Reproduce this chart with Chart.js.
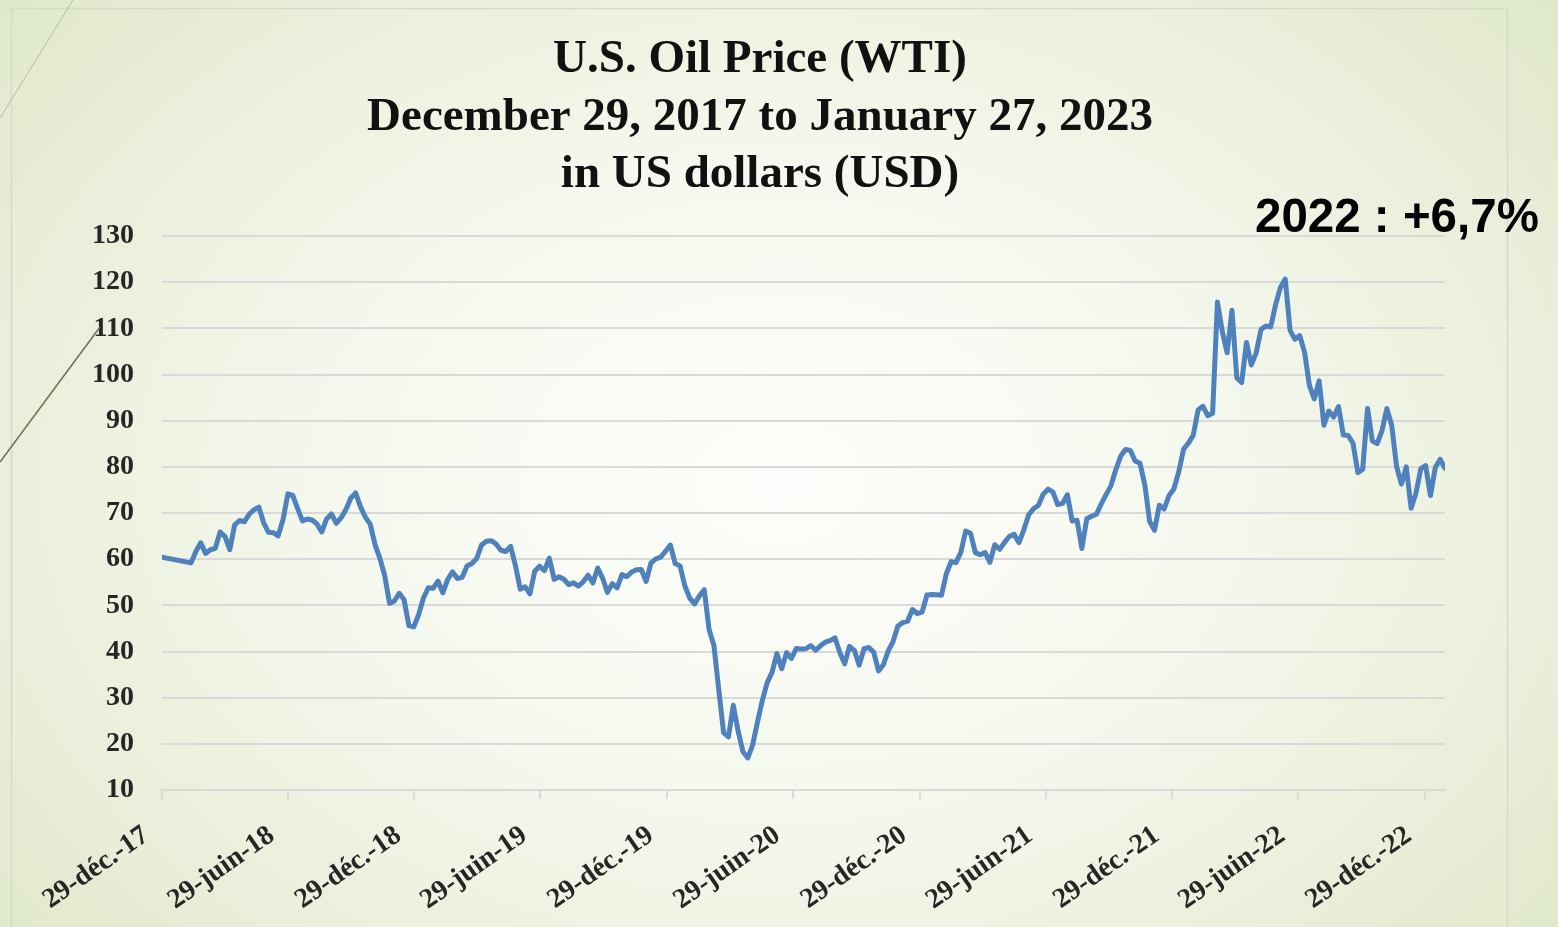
<!DOCTYPE html>
<html><head><meta charset="utf-8">
<script src="https://cdn.jsdelivr.net/npm/chart.js@4.4.1/dist/chart.umd.min.js"></script>
<style>
html,body{margin:0;padding:0;width:1558px;height:927px;overflow:hidden;}
body{background: radial-gradient(ellipse 70% 85% at 50% 52%, #fdfefb 0%, #f5f8ee 40%, #e8eed8 75%, #dde6c5 100%);}
#wrap{position:absolute;left:0;top:0;width:1558px;height:927px;}
</style></head><body>
<div id="wrap"><canvas id="c" width="1558" height="927"></canvas></div>
<script>
// ---- data ----
const startDate = '2017-12-29';           // first weekly observation (Friday)
const titleLines = ['U.S. Oil Price (WTI)', 'December 29, 2017 to January 27, 2023', 'in US dollars (USD)'];
const annotationText = '2022 : +6,7%';
const tickLabels = ['29-déc.-17','29-juin-18','29-déc.-18','29-juin-19','29-déc.-19','29-juin-20','29-déc.-20','29-juin-21','29-déc.-21','29-juin-22','29-déc.-22'];
const tickDates  = ['2017-12-29','2018-06-29','2018-12-29','2019-06-29','2019-12-29','2020-06-29','2020-12-29','2021-06-29','2021-12-29','2022-06-29','2022-12-29'];
const endDate = '2023-01-27';
// weekly WTI price, USD (null = no observation)
const prices2018 = [60.42,null,null,null,null,null,59.20,61.68,63.55,61.25,62.04,62.34,65.88,64.94,62.06,67.39,68.38,68.10,69.72,70.70,71.28,67.88,65.81,65.74,65.06,68.58,74.15,73.80,71.01,68.30,68.69,68.49,67.63,65.91,68.72,69.80,67.75,68.99,70.78,73.25,74.34,71.34,69.12,67.59,63.14,60.19,56.46,50.42,50.93,52.61,51.20,45.59,45.33];
const prices2019 = [47.96,51.59,53.80,53.69,55.26,52.72,55.59,57.26,55.80,56.07,58.52,59.04,60.14,63.08,63.89,64.00,63.30,61.94,61.66,62.76,58.63,53.50,54.00,52.51,57.43,58.47,57.51,60.21,55.63,56.20,55.66,54.50,54.87,54.17,55.10,56.52,54.85,58.09,55.91,52.81,54.70,53.78,56.66,56.20,57.24,57.72,57.77,55.17,59.20,60.07,60.44,61.72];
const prices2020 = [63.05,59.04,58.54,54.19,51.56,50.32,52.05,53.38,44.76,41.28,31.73,22.43,21.51,28.34,22.76,18.27,16.94,19.78,24.74,29.43,33.25,35.49,39.55,36.26,39.75,38.49,40.65,40.55,40.59,41.29,40.27,41.22,42.01,42.34,42.97,39.77,37.33,41.11,40.25,37.05,40.60,40.88,39.85,35.79,37.14,40.13,42.15,45.53,46.26,46.57,49.10,48.23,48.52];
const prices2021 = [52.24,52.36,52.27,52.20,56.85,59.47,59.24,61.50,66.09,65.61,61.42,60.97,61.45,59.32,63.13,62.14,63.58,64.90,65.37,63.58,66.32,69.62,70.91,71.64,74.05,75.16,74.56,71.81,72.07,73.95,68.28,68.44,62.32,68.74,69.29,69.72,71.97,73.98,75.88,79.35,82.28,83.76,83.57,81.27,80.79,76.10,68.15,66.26,71.67,70.86,73.79,75.21];
const prices2022 = [78.90,83.82,85.14,86.82,92.31,93.10,91.07,91.59,115.68,109.33,104.70,113.90,99.27,98.26,106.95,102.07,104.69,109.77,110.49,110.28,115.07,118.87,120.67,109.56,107.62,108.43,104.79,97.59,94.70,98.62,89.01,92.09,90.77,93.06,86.87,86.79,85.11,78.74,79.49,92.64,85.61,85.05,87.90,92.61,88.96,80.08,76.28,79.98,71.02,74.29,79.56,80.26];
const prices2023 = [73.77,79.86,81.64,79.68];
const yTicks = {min: 10, max: 130, step: 10};

// ---- build ----
const DAY = 86400000;
const t0 = Date.parse(startDate + 'T00:00:00Z');
const dayOf = s => Math.round((Date.parse(s + 'T00:00:00Z') - t0) / DAY);
const prices = [].concat(prices2018, prices2019, prices2020, prices2021, prices2022, prices2023);
const points = prices.map((v, i) => ({x: i * 7, y: v}));
const tickDays = tickDates.map(dayOf);

const SERIF = '"Liberation Serif", "Times New Roman", serif';

const decor = {
  id: 'decor',
  beforeDraw(chart) {
    const c = chart.ctx;
    c.save();
    c.strokeStyle = '#d6d9d0';
    c.lineWidth = 1.5;
    c.strokeRect(11.5, 8.5, 1496, 1000);
    c.restore();
  },
  afterDraw(chart) {
    const c = chart.ctx;
    c.save();
    c.fillStyle = '#111';
    c.textAlign = 'center';
    c.textBaseline = 'alphabetic';
    c.font = 'bold 47px ' + SERIF;
    const bl = [72, 130, 187];
    titleLines.forEach((t, i) => c.fillText(t, 760, bl[i]));
    c.textAlign = 'left';
    c.fillStyle = '#000';
    c.font = 'bold 47.5px "Liberation Sans", Arial, sans-serif';
    c.fillText(annotationText, 1255, 232);
    // decorative theme lines
    c.lineWidth = 1;
    c.strokeStyle = 'rgba(170,172,150,0.8)';
    c.beginPath(); c.moveTo(73, 0); c.lineTo(0, 118); c.stroke();
    c.lineWidth = 1.6;
    c.strokeStyle = '#7a6d56';
    c.beginPath(); c.moveTo(100, 327); c.lineTo(0, 462); c.stroke();
    c.restore();
  }
};

new Chart(document.getElementById('c'), {
  type: 'line',
  data: {
    datasets: [{
      data: points,
      borderColor: '#4F81BD',
      borderWidth: 5,
      pointRadius: 0,
      tension: 0,
      spanGaps: true,
      fill: false,
      borderJoinStyle: 'round',
      borderCapStyle: 'round'
    }]
  },
  options: {
    responsive: false,
    animation: false,
    layout: {padding: {top: 236, right: 113, bottom: 0, left: 0}},
    plugins: {legend: {display: false}, tooltip: {enabled: false}, title: {display: false}},
    scales: {
      x: {
        type: 'linear',
        min: 0,
        max: dayOf(endDate),
        afterBuildTicks: s => { s.ticks = tickDays.map(v => ({value: v})); },
        afterFit: s => { s.height = 137; },
        grid: {drawOnChartArea: false, drawTicks: true, tickLength: 9, color: '#d9d9d9', lineWidth: 2},
        border: {display: true, color: '#d9d9d9', width: 2},
        ticks: {
          autoSkip: false,
          minRotation: 35,
          maxRotation: 35,
          padding: 20,
          labelOffset: -16,
          color: '#262626',
          font: {family: SERIF, size: 28, weight: 'bold'},
          callback: (v, i) => tickLabels[i]
        }
      },
      y: {
        min: yTicks.min,
        max: yTicks.max,
        afterFit: s => { s.width = 162; },
        grid: {drawTicks: false, color: '#d9d9d9', lineWidth: 2},
        border: {display: false},
        ticks: {
          stepSize: yTicks.step,
          padding: 28,
          color: '#262626',
          font: {family: SERIF, size: 28, weight: 'bold'}
        }
      }
    }
  },
  plugins: [decor]
});
</script></body></html>
